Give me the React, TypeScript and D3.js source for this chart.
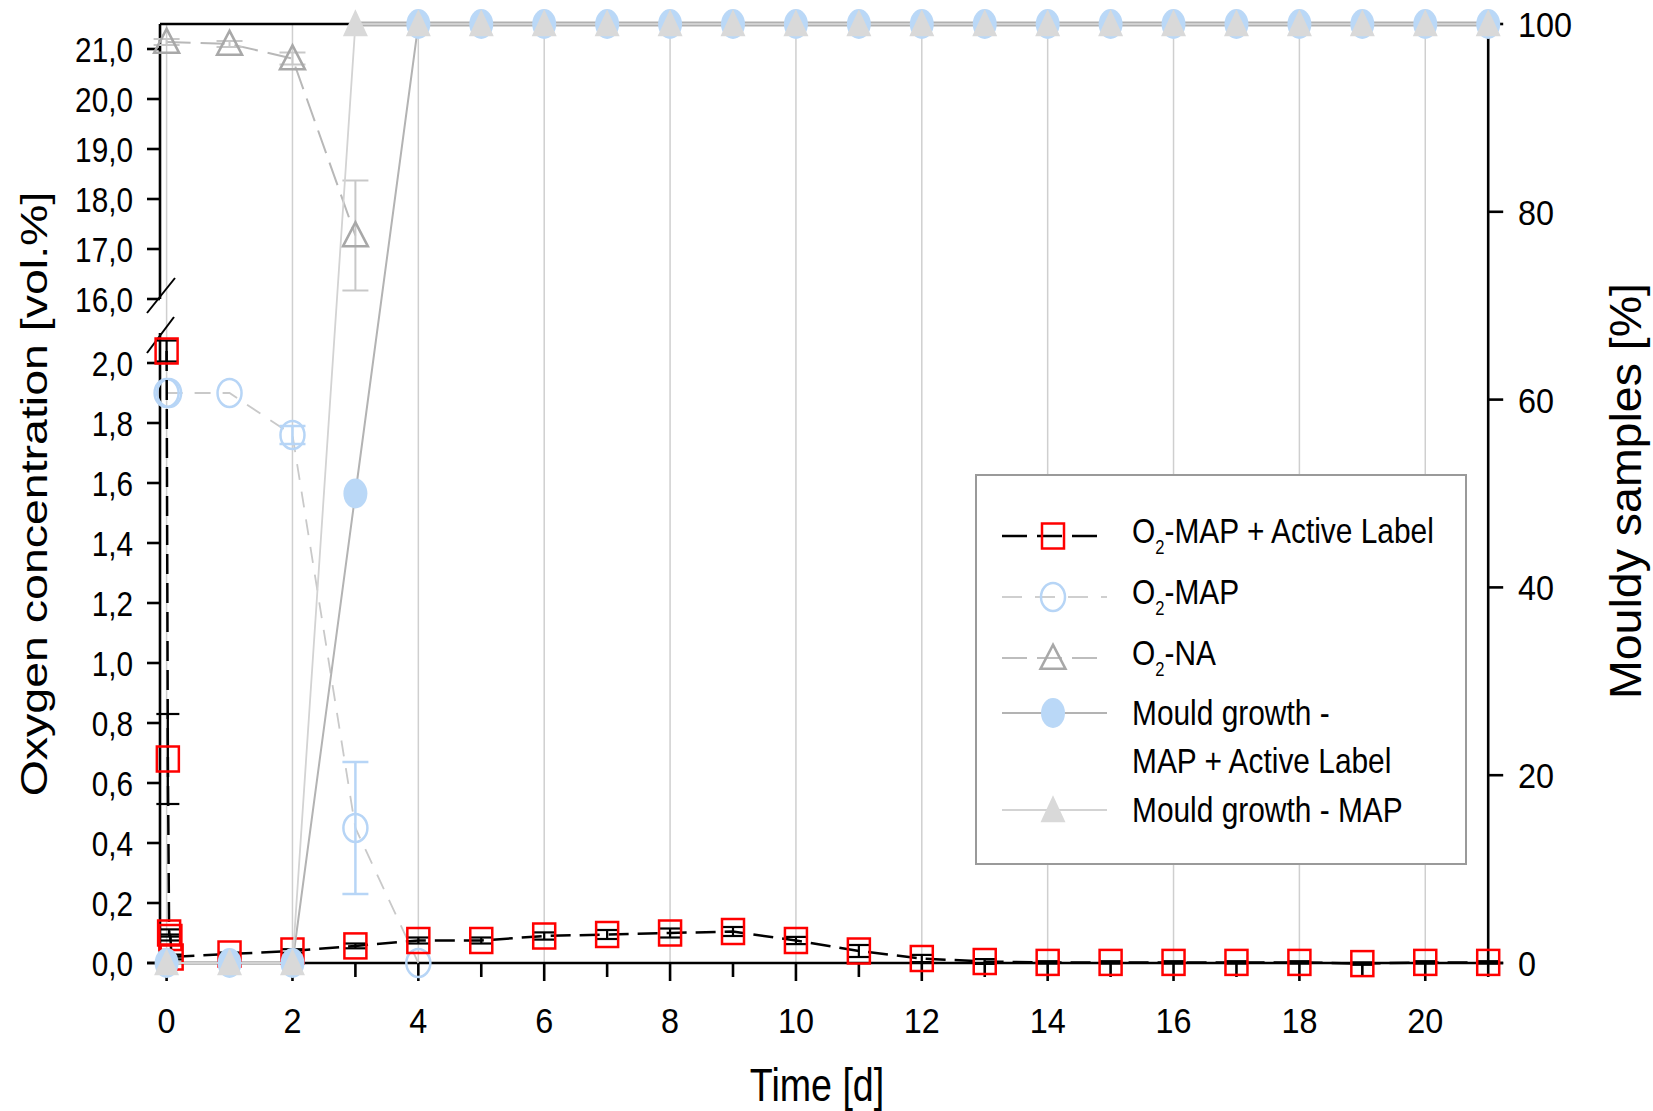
import React from 'react';
import * as d3 from 'd3';

const W = 1653;
const H = 1111;
const FONT = '"Liberation Sans", Arial, Helvetica, sans-serif';

// ---------- data ----------
const xMajorTicks = [0, 2, 4, 6, 8, 10, 12, 14, 16, 18, 20];
const xMinorTicks = [1, 3, 5, 7, 9, 11, 13, 15, 17, 19, 21];
const lowerTicks = [0, 0.2, 0.4, 0.6, 0.8, 1.0, 1.2, 1.4, 1.6, 1.8, 2.0];
const upperTicks = [16, 17, 18, 19, 20, 21];
const rightTicks = [0, 20, 40, 60, 80, 100];

// O2-MAP + Active Label
const alDays = [0, 0.02, 0.04, 0.06, 0.08, 1, 2, 3, 4, 5, 6, 7, 8, 9, 10, 11, 12, 13, 14, 15, 16, 17, 18, 19, 20, 21];
const alValues = [2.04, 0.68, 0.1, 0.085, 0.02, 0.03, 0.04, 0.057, 0.075, 0.075, 0.09, 0.095, 0.1, 0.105, 0.075, 0.04, 0.015, 0.005, 0.002, 0.002, 0.002, 0.002, 0.002, -0.002, 0.002, 0.002];
const alErrors = [0.035, 0.15, 0.012, 0.01, 0.008, 0.005, 0.006, 0.008, 0.01, 0.01, 0.012, 0.015, 0.015, 0.015, 0.012, 0.02, 0.012, 0.008, 0.004, 0.004, 0.004, 0.004, 0.004, 0.004, 0.004, 0.004];

// O2-MAP
const mapDays = [0, 0.04, 1, 2, 3, 4];
const mapValues = [1.9, 1.9, 1.9, 1.76, 0.45, 0.0];
const mapErrors = [0, 0, 0, 0.03, 0.22, 0];

// O2-NA
const naDays = [0, 1, 2, 3];
const naValues = [21.14, 21.1, 20.81, 17.27];
const naErrors = [0.06, 0.06, 0.12, 1.1];

// Mould growth (% of samples)
const mouldDays = [0, 1, 2, 3, 4, 5, 6, 7, 8, 9, 10, 11, 12, 13, 14, 15, 16, 17, 18, 19, 20, 21];
const mouldAL = [0, 0, 0, 50, 100, 100, 100, 100, 100, 100, 100, 100, 100, 100, 100, 100, 100, 100, 100, 100, 100, 100];
const mouldMAP = [0, 0, 0, 100, 100, 100, 100, 100, 100, 100, 100, 100, 100, 100, 100, 100, 100, 100, 100, 100, 100, 100];

// ---------- scales ----------
const x = d3.scaleLinear().domain([0, 21]).range([166.6, 1488.2]);
const yLow = d3.scaleLinear().domain([0, 2.1]).range([963, 333]);
const yUp = d3.scaleLinear().domain([16, 21.5]).range([299, 24]);
const yR = d3.scaleLinear().domain([0, 100]).range([963, 24]);

const AXIS_X = 160;
const RIGHT_X = x(21);
const fmt1 = (v: number) => d3.format('.1f')(v).replace('.', ',');

const RED = '#ff0000';
const BLUE = '#b7d5f6';
const BLUE_FILL = '#bad8f7';
const TRI = '#a8a8a8';
const TRI_FILL = '#d9d9d9';

type P = { d: number; v: number; e?: number };
const zipS = (days: number[], vals: number[], errs?: number[]): P[] =>
  days.map((d, i) => ({ d, v: vals[i], e: errs ? errs[i] : 0 }));

const triPath = (cx: number, cy: number, w: number, h: number) => {
  const p = d3.path();
  p.moveTo(cx, cy - h * 0.55);
  p.lineTo(cx - w / 2, cy + h * 0.45);
  p.lineTo(cx + w / 2, cy + h * 0.45);
  p.closePath();
  return p.toString();
};

const SText = ({ x: tx, y: ty, sx = 1, rot = false, size, anchor = 'start', children }: any) => (
  <g transform={`translate(${tx},${ty})${rot ? ' rotate(-90)' : ''} scale(${rot ? 1 : sx},${rot ? sx : 1})`}>
    <text fontSize={size} textAnchor={anchor} fontFamily={FONT} fill="#000">
      {children}
    </text>
  </g>
);

const ErrBars = ({ pts, ys, color, width, cap }: any) => (
  <g stroke={color} strokeWidth={width} fill="none">
    {pts.filter((p: P) => p.e && p.e > 0).map((p: P, i: number) => {
      const cx = x(p.d);
      const y1 = ys(p.v - (p.e as number));
      const y2 = ys(p.v + (p.e as number));
      return (
        <g key={i}>
          <line x1={cx} x2={cx} y1={y1} y2={y2} />
          <line x1={cx - cap} x2={cx + cap} y1={y1} y2={y1} />
          <line x1={cx - cap} x2={cx + cap} y1={y2} y2={y2} />
        </g>
      );
    })}
  </g>
);

export default function App() {
  const al = zipS(alDays, alValues, alErrors);
  const mp = zipS(mapDays, mapValues, mapErrors);
  const na = zipS(naDays, naValues, naErrors);
  const mAL = zipS(mouldDays, mouldAL);
  const mMAP = zipS(mouldDays, mouldMAP);

  const lineLow = d3.line<P>().x((p) => x(p.d)).y((p) => yLow(p.v));
  const lineUp = d3.line<P>().x((p) => x(p.d)).y((p) => yUp(p.v));
  const lineR = d3.line<P>().x((p) => x(p.d)).y((p) => yR(p.v));

  const firstFull = mMAP.find((p) => p.v === 100) as P;

  // legend geometry
  const LX0 = 1002, LX1 = 1097, LX1b = 1107, LM = 1053, LT = 1132;
  const rows = [536, 597, 658, 713, 810];

  const sub = (rest: string) => (
    <>
      <tspan>O</tspan>
      <tspan fontSize={20} dy={11}>2</tspan>
      <tspan dy={-11}>{rest}</tspan>
    </>
  );

  return (
    <svg width={W} height={H} style={{ position: 'absolute', left: 0, top: 0, background: '#fff' }}>
      <rect x={0} y={0} width={W} height={H} fill="#fff" />

      {/* vertical grid */}
      <g stroke="#cfcfcf" strokeWidth={1.5}>
        {xMajorTicks.map((t) => (
          <line key={t} x1={x(t)} x2={x(t)} y1={yR(100)} y2={yR(0)} />
        ))}
      </g>

      {/* frame */}
      <g stroke="#000" strokeWidth={2.6} fill="none">
        <line x1={AXIS_X} x2={RIGHT_X} y1={yR(100)} y2={yR(100)} />
        <line x1={AXIS_X - 13} x2={RIGHT_X + 15} y1={yLow(0)} y2={yLow(0)} />
        <line x1={AXIS_X} x2={AXIS_X} y1={yUp(21.5)} y2={yUp(16)} />
        <line x1={AXIS_X} x2={AXIS_X} y1={yLow(2.1)} y2={yLow(0)} />
        <line x1={RIGHT_X} x2={RIGHT_X} y1={yR(100) + 10} y2={yR(0)} />
        {/* break marks */}
        <line x1={147} y1={313} x2={175} y2={278} strokeWidth={2} />
        <line x1={147} y1={353} x2={174} y2={317} strokeWidth={2} />
        {/* left ticks */}
        {upperTicks.map((t) => (
          <line key={'u' + t} x1={AXIS_X - 13} x2={AXIS_X} y1={yUp(t)} y2={yUp(t)} />
        ))}
        {lowerTicks.map((t) => (
          <line key={'l' + t} x1={AXIS_X - 13} x2={AXIS_X} y1={yLow(t)} y2={yLow(t)} />
        ))}
        {/* right ticks */}
        {rightTicks.map((t) => (
          <line key={'r' + t} x1={RIGHT_X} x2={RIGHT_X + 15} y1={yR(t)} y2={yR(t)} />
        ))}
        {/* x ticks */}
        {xMajorTicks.map((t) => (
          <line key={'M' + t} x1={x(t)} x2={x(t)} y1={yLow(0)} y2={yLow(0) + 18} />
        ))}
        {xMinorTicks.map((t) => (
          <line key={'m' + t} x1={x(t)} x2={x(t)} y1={yLow(0)} y2={yLow(0) + 14} />
        ))}
      </g>

      {/* tick labels */}
      {upperTicks.map((t) => (
        <SText key={'ul' + t} x={133} y={yUp(t) + 12.5} size={35} sx={0.85} anchor="end">{fmt1(t)}</SText>
      ))}
      {lowerTicks.map((t) => (
        <SText key={'ll' + t} x={133} y={yLow(t) + 12.5} size={35} sx={0.85} anchor="end">{fmt1(t)}</SText>
      ))}
      {xMajorTicks.map((t) => (
        <SText key={'xl' + t} x={x(t)} y={1033} size={36} sx={0.9} anchor="middle">{String(t)}</SText>
      ))}
      {rightTicks.map((t) => (
        <SText key={'rl' + t} x={1518} y={yR(t) + 13} size={36} sx={0.9}>{String(t)}</SText>
      ))}

      {/* axis titles */}
      <SText x={47} y={494} rot sx={0.8} size={46.5} anchor="middle">Oxygen concentration [vol.%]</SText>
      <SText x={1641} y={491} rot sx={0.95} size={46.5} anchor="middle">Mouldy samples [%]</SText>
      <SText x={817} y={1101} sx={0.8} size={47} anchor="middle">Time [d]</SText>

      {/* O2-NA */}
      <path d={lineUp(na) as string} fill="none" stroke="#b8b8b8" strokeWidth={2} strokeDasharray="24,10" />
      <ErrBars pts={na} ys={yUp} color="#c8c8c8" width={2} cap={13} />
      {na.map((p, i) => (
        <path key={i} d={triPath(x(p.d), yUp(p.v), 25, 24)} fill="none" stroke={TRI} strokeWidth={2.5} />
      ))}

      {/* O2-MAP */}
      <path d={lineLow(mp) as string} fill="none" stroke="#c9c9c9" strokeWidth={1.8} strokeDasharray="16,12" />
      <ErrBars pts={mp} ys={yLow} color={BLUE} width={2.5} cap={13} />
      {mp.map((p, i) => (
        <ellipse key={i} cx={x(p.d)} cy={yLow(p.v)} rx={12} ry={14} fill="none" stroke={BLUE} strokeWidth={2.5} />
      ))}

      {/* O2-MAP + Active Label */}
      <path d={lineLow(al) as string} fill="none" stroke="#000" strokeWidth={2.5} strokeDasharray="20,9" />
      <ErrBars pts={al} ys={yLow} color="#000" width={2.2} cap={11.5} />
      {al.map((p, i) => (
        <rect key={i} x={x(p.d) - 11} y={yLow(p.v) - 12.5} width={22} height={25} fill="none" stroke={RED} strokeWidth={2.5} />
      ))}

      {/* Mould growth lines */}
      <path d={lineR(mAL) as string} fill="none" stroke="#b3b3b3" strokeWidth={2} />
      <path d={lineR(mMAP) as string} fill="none" stroke="#d3d3d3" strokeWidth={1.8} />
      <line x1={x(firstFull.d)} x2={RIGHT_X} y1={yR(100)} y2={yR(100)} stroke="#b0b0b0" strokeWidth={5} />
      <line x1={x(firstFull.d)} x2={RIGHT_X} y1={yR(100)} y2={yR(100)} stroke="#dcdcdc" strokeWidth={1.5} />
      {mAL.map((p, i) => (
        <ellipse key={i} cx={x(p.d)} cy={yR(p.v)} rx={12} ry={15} fill={BLUE_FILL} />
      ))}
      {mMAP.map((p, i) => (
        <path key={i} d={triPath(x(p.d), yR(p.v), 25, 27)} fill={TRI_FILL} />
      ))}

      {/* legend */}
      <rect x={976} y={475} width={490} height={389} fill="#fff" stroke="#9a9a9a" strokeWidth={2} />
      <g>
        <line x1={LX0} x2={LX1} y1={rows[0]} y2={rows[0]} stroke="#000" strokeWidth={2.5} strokeDasharray="25,10" />
        <rect x={LM - 11} y={rows[0] - 12.5} width={22} height={25} fill="none" stroke={RED} strokeWidth={2.5} />

        <line x1={LX0} x2={LX1b} y1={rows[1]} y2={rows[1]} stroke="#cfcfcf" strokeWidth={1.8} strokeDasharray="20,13" />
        <ellipse cx={LM} cy={rows[1]} rx={12} ry={14} fill="none" stroke={BLUE} strokeWidth={2.5} />

        <line x1={LX0} x2={LX1} y1={rows[2]} y2={rows[2]} stroke="#bdbdbd" strokeWidth={2} strokeDasharray="25,10" />
        <path d={triPath(LM, rows[2], 25, 24)} fill="none" stroke={TRI} strokeWidth={2.5} />

        <line x1={LX0} x2={LX1b} y1={rows[3]} y2={rows[3]} stroke="#b3b3b3" strokeWidth={2} />
        <ellipse cx={LM} cy={rows[3]} rx={12} ry={15} fill={BLUE_FILL} />

        <line x1={LX0} x2={LX1b} y1={rows[4]} y2={rows[4]} stroke="#d3d3d3" strokeWidth={2} />
        <path d={triPath(LM, rows[4], 25, 27)} fill={TRI_FILL} />
      </g>
      <SText x={LT} y={543} size={36} sx={0.83}>{sub('-MAP + Active Label')}</SText>
      <SText x={LT} y={604} size={36} sx={0.83}>{sub('-MAP')}</SText>
      <SText x={LT} y={665} size={36} sx={0.83}>{sub('-NA')}</SText>
      <SText x={LT} y={725} size={36} sx={0.83}>Mould growth -</SText>
      <SText x={LT} y={773} size={36} sx={0.83}>MAP + Active Label</SText>
      <SText x={LT} y={822} size={36} sx={0.83}>Mould growth - MAP</SText>
    </svg>
  );
}
